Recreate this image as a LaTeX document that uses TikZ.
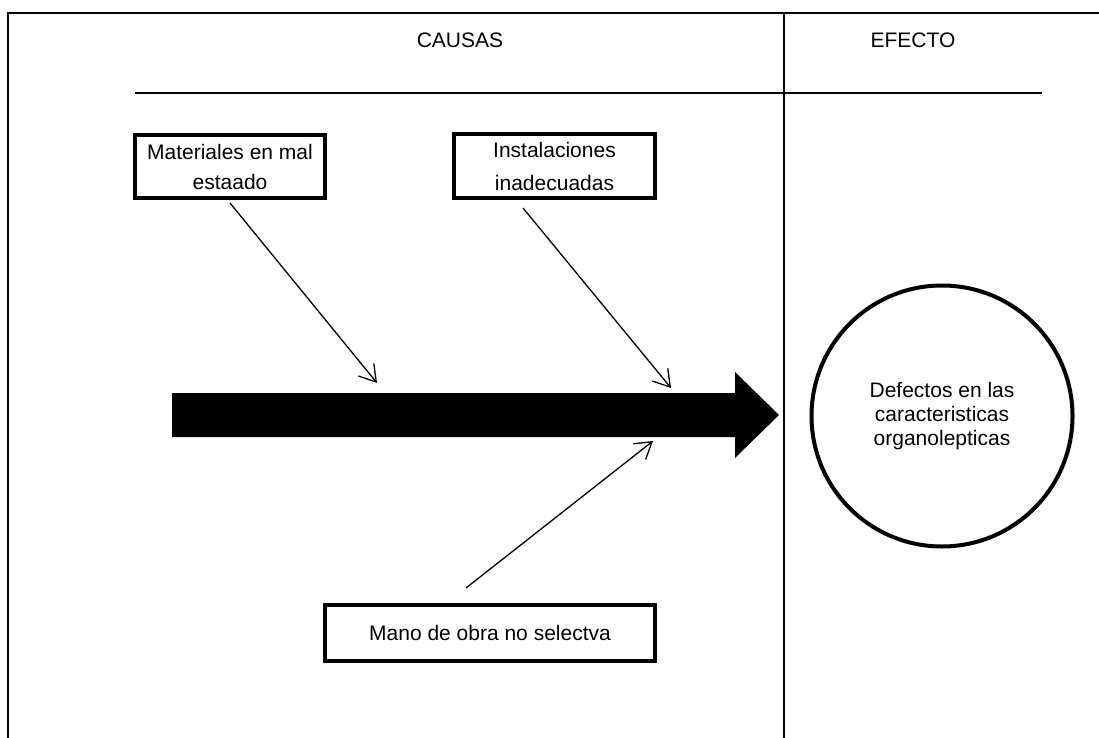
\documentclass[tikz,border=0pt]{standalone}
\usepackage{fontspec}
\setmainfont{Liberation Sans}
\usetikzlibrary{arrows.meta}
\begin{document}
\begin{tikzpicture}[x=1pt,y=-1pt,
  frameline/.style={line width=2pt},
  causebox/.style={draw,line width=4pt,align=center,inner sep=0pt,
    font=\fontsize{21}{30}\selectfont},
  effectcircle/.style={draw,circle,line width=4pt,minimum size=261pt,align=center,
    inner sep=0pt,font=\fontsize{21}{24}\selectfont},
  header/.style={font=\fontsize{21}{25}\selectfont},
  causearrow/.style={line width=1.3pt,-{Straight Barb[length=16pt,width=20pt,line width=1.3pt]}},
  spine/.style={fill=black,draw=none}]
\useasboundingbox (0,0) rectangle (1099,738);
% frame
\coordinate (tl) at (8,13);
\coordinate (tr) at (1099,13);
\coordinate (bl) at (8,738);
\coordinate (dt) at (784,13);
\coordinate (db) at (784,738);
\coordinate (hl) at (135,93);
\coordinate (hr) at (1042,93);
\draw[frameline] (bl) -- (tl) -- (tr);
\draw[frameline] (dt) -- (db);
\draw[frameline] (hl) -- (hr);
% headers
\node[header] (causas) at (460,40) {CAUSAS};
\node[header] (efecto) at (913,40) {EFECTO};
% spine arrow
\draw[spine] (172,393) -- (735,393) -- (735,372) -- (779,415) -- (735,458) -- (735,437) -- (172,437) -- cycle;
\coordinate (t1) at (377,383);
\coordinate (t2) at (671,388);
\coordinate (t3) at (653,441);
% cause boxes
\node[causebox,minimum width=190pt,minimum height=63pt] (b1) at (230,166.5) {Materiales en mal\\estaado};
\node[causebox,minimum width=201pt,minimum height=64pt,font=\fontsize{21}{33}\selectfont] (b2) at (554.5,166) {Instalaciones\\inadecuadas};
\node[causebox,minimum width=330pt,minimum height=56pt] (b3) at (490,633) {Mano de obra no selectva};
% effect
\node[effectcircle] (ef) at (942,416) {Defectos en las\\caracteristicas\\organolepticas};
% cause arrows
\coordinate (s1) at (230,203);
\coordinate (s2) at (523,208);
\coordinate (s3) at (466,588);
\draw[causearrow] (s1) -- (t1);
\draw[causearrow] (s2) -- (t2);
\draw[causearrow] (s3) -- (t3);
\end{tikzpicture}
\end{document}
